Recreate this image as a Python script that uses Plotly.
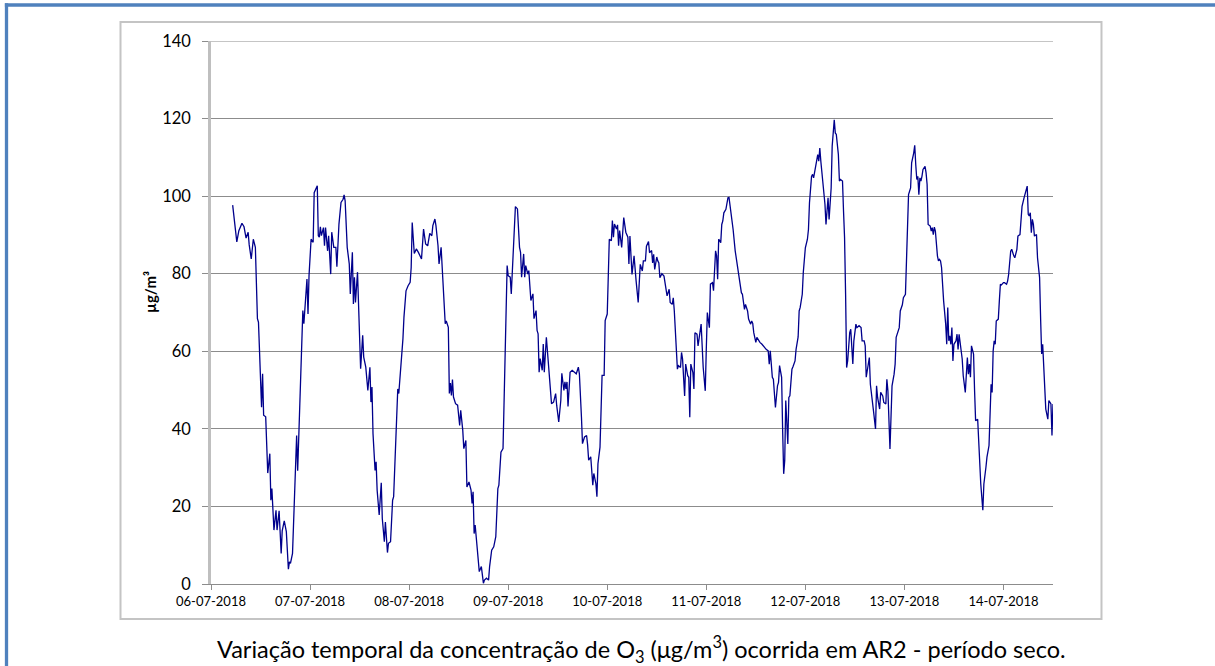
import pandas as pd
import plotly.graph_objects as go

# Reading number (15-minute steps counted from 06-07-2018 00:00) and O3 concentration (µg/m³)
quarter_hour = [
    21, 23, 25, 27, 30, 32, 34, 36, 37, 39, 41, 43, 44, 45, 46, 48, 49, 50, 51, 53,
    55, 57, 58, 59, 61, 63, 64, 66, 68, 69, 71, 73, 75, 76, 77, 79, 81, 83, 84, 86,
    88, 89, 90, 93, 94, 95, 97, 99, 100, 103, 104, 105, 106, 107, 109, 110, 111, 113, 114, 116,
    117, 119, 121, 122, 124, 126, 128, 129, 130, 132, 134, 135, 137, 138, 139, 140, 142, 143, 144, 145,
    147, 148, 150, 152, 154, 155, 156, 157, 159, 160, 161, 163, 165, 166, 168, 169, 171, 172, 174, 176,
    177, 179, 181, 182, 184, 186, 187, 189, 191, 193, 194, 195, 197, 199, 201,
    204, 206, 208, 210, 212, 214, 215, 217, 218, 220, 221, 223, 224, 225, 227, 228, 230, 231, 232, 233,
    234, 235, 237, 239, 241, 242, 244, 245, 247, 248, 250, 252, 253, 254, 255, 256, 258, 259, 260, 262,
    264, 265, 267, 269, 270, 272, 274, 276, 278, 279, 281, 283, 284, 285, 287, 288, 290, 291, 293, 295,
    297, 299, 300, 301, 303, 304, 305, 307, 308, 310, 312, 313, 315, 316, 317, 318, 319, 321, 322, 323,
    325, 327, 329, 330, 332, 334, 335, 337, 339, 340, 342, 343, 344, 345, 346, 348, 350, 352, 354, 356,
    357, 359, 360, 362, 364, 365, 366, 368, 370, 371, 373, 374, 375, 377, 378, 379, 381, 382, 384, 385,
    386, 388, 389, 390, 391, 393, 394, 395, 396, 398, 400, 402, 404, 405,
    406, 408, 410, 412, 414, 416, 418, 419, 421, 422, 424, 425, 427, 428, 429, 430, 432, 433, 434, 435,
    437, 439, 440, 442, 444, 445, 447, 448, 449, 451, 452, 453, 455, 456, 457, 459, 460, 462, 463, 464,
    465, 467, 468, 469, 471, 472, 473, 475, 477, 479, 480, 481, 483, 484, 486, 487, 489, 490, 491, 492,
    494, 495, 496, 497, 499, 501, 502, 504, 506, 508, 510, 512, 514, 515, 517, 518, 520, 521, 523, 524,
    525, 526, 528, 529, 531, 532, 534, 535, 536, 538, 540, 541, 542, 544, 545, 547, 549, 550, 551, 553,
    554, 555, 556, 557, 559, 560, 561, 563, 564, 566, 567, 569, 570, 571, 573, 574, 576, 578, 579, 580,
    582, 583, 584, 585, 586, 588, 589, 590, 591, 593, 595, 596, 598, 599, 601, 602, 604, 605, 606, 608,
    609,
    610, 612, 613, 614, 615, 616, 617, 619, 620, 622, 623, 625, 626, 628, 630, 631, 633, 634, 635, 637,
    638, 639, 641, 642, 644, 645, 646, 648, 649, 651, 652, 654, 655, 656, 658, 659, 660, 662, 663, 664,
    665, 667, 668, 670, 671, 673, 674, 675, 676, 678, 679, 681, 682, 683, 684, 685, 686, 687, 688, 689,
    690, 692, 693, 694, 695, 697, 698, 699, 700, 701, 702, 704, 705, 706, 707, 708, 709, 710, 712, 713,
    714, 715, 716, 717, 718, 719, 720, 722, 723, 724, 725, 727, 728, 729, 731, 733, 734, 735, 736, 737,
    739, 740, 741, 743, 744, 745, 746, 748, 749, 751, 752, 754, 755, 756, 757, 758, 759, 760, 761, 763,
    764, 765, 766, 768, 769, 771, 772, 773, 775, 776, 778, 779, 781, 782, 784, 785, 786, 788, 789, 791,
    792, 793, 794, 795, 796, 797, 798, 800, 801, 803, 804, 805, 806, 808, 809, 811, 812, 814, 815, 816,
]

o3 = [
    97.7, 93.2, 88.2, 91.1, 93.0, 92.1, 89.2, 90.7, 87.5, 83.8, 88.9, 86.8, 74.8, 68.4, 67.5, 54.2, 45.6, 54.2, 43.5, 43.1,
    28.6, 33.6, 21.6, 24.6, 13.9, 19.0, 13.9, 18.9, 7.9, 13.7, 16.3, 13.5, 3.8, 5.7, 5.3, 7.9, 20.8, 38.3, 29.2, 46.5,
    60.6, 70.5, 67.1, 78.6, 69.6, 79.5, 88.9, 88.1, 100.9, 102.7, 89.8, 89.4, 92.1, 89.8, 91.9, 87.2, 91.9, 85.9, 89.8, 79.9,
    90.7, 86.8, 86.8, 81.8, 92.8, 98.4, 99.2, 100.3, 98.8, 86.8, 82.5, 74.8, 85.5, 72.2, 79.1, 72.6, 80.4, 73.1, 65.4, 55.5,
    64.1, 58.5, 55.9, 49.9, 55.9, 46.9, 50.8, 38.8, 29.3, 31.5, 24.2, 17.8, 26.1, 16.9, 10.9, 16.0, 8.1, 10.5, 10.9, 21.6,
    22.5, 35.3, 50.3, 49.1, 55.9, 63.2, 68.8, 75.6, 76.9, 77.8, 81.6, 93.2, 85.2, 86.4, 85.5,
    83.8, 91.5, 87.7, 87.2, 90.4, 89.8, 92.4, 94.1, 92.4, 87.2, 82.5, 86.8, 82.1, 74.8, 67.1, 67.8, 66.2, 49.1, 51.8, 48.6,
    52.7, 48.2, 46.5, 46.1, 40.9, 44.8, 39.6, 34.9, 37.0, 25.0, 26.3, 24.2, 20.8, 23.8, 13.0, 15.2, 7.9, 6.6, 3.2, 4.5,
    0.2, 1.0, 1.5, 1.0, 4.5, 8.7, 9.6, 12.2, 24.6, 25.5, 34.0, 34.9, 47.3, 61.9, 82.1, 79.5, 79.1, 74.8, 85.1, 97.3,
    96.7, 86.8, 85.5, 79.1, 85.1, 79.1, 82.1, 79.9, 80.8, 73.1, 74.8, 68.4, 70.5, 65.4, 64.5, 54.6, 58.1, 55.1, 61.9, 54.6,
    63.6, 57.6, 50.8, 46.5, 46.9, 49.1, 46.1, 41.8, 47.3, 54.3, 49.9, 52.1, 50.3, 52.1, 45.8, 54.6, 55.1, 54.6, 54.2, 55.9,
    54.2, 43.1, 36.2, 37.9, 38.3, 35.8, 31.9, 32.8, 25.5, 28.5, 25.9, 22.5, 31.0, 35.3, 43.5, 53.8, 53.8, 67.9, 69.6, 84.2,
    88.9, 88.5, 93.7, 89.4, 92.8, 91.5, 92.6, 87.2, 91.1, 86.8, 94.5, 90.7, 89.4, 82.5,
    89.7, 79.8, 84.6, 78.1, 72.6, 82.4, 80.7, 83.3, 83.3, 87.1, 88.3, 85.4, 86.0, 82.8, 85.0, 81.1, 84.3, 83.3, 82.8, 79.0,
    80.0, 79.4, 77.3, 74.3, 76.0, 72.6, 72.1, 73.8, 70.4, 59.3, 55.4, 56.3, 55.8, 59.7, 58.0, 48.5, 56.7, 53.7, 53.3, 43.0,
    56.7, 54.5, 50.3, 64.8, 64.4, 61.4, 63.5, 67.0, 55.8, 49.8, 60.5, 70.0, 66.1, 77.3, 77.7, 75.6, 85.9, 84.6, 78.6, 88.9,
    88.0, 92.7, 93.6, 95.7, 96.6, 99.6, 99.7, 96.1, 91.4, 85.9, 82.4, 79.8, 75.1, 74.7, 70.8, 72.1, 70.4, 68.3, 67.0, 67.8,
    67.2, 64.8, 62.3, 63.6, 62.7, 62.3, 61.8, 61.4, 61.0, 60.5, 60.1, 56.7, 60.1, 53.3, 52.8, 45.5, 51.1, 52.0, 56.3, 53.3,
    39.5, 28.4, 31.8, 47.3, 36.1, 48.1, 48.5, 55.4, 56.0, 57.5, 60.5, 63.7, 70.4, 71.3, 74.7, 80.3, 86.7, 88.9, 91.4, 98.3,
    105.1, 105.6, 104.7, 106.4, 106.9, 110.7, 109.0, 112.4, 109.0, 103.9, 97.9, 92.7, 99.6, 94.0, 102.1, 112.9, 119.7, 116.3, 115.9, 110.7,
    103.9,
    104.3, 103.9, 96.1, 89.3, 74.7, 55.8, 57.5, 64.8, 65.7, 56.7, 62.7, 67.0, 66.1, 66.6, 66.1, 62.7, 62.7, 61.4, 53.3, 56.7,
    58.4, 51.5, 46.0, 44.7, 40.0, 51.1, 48.1, 45.1, 49.4, 48.5, 46.8, 46.4, 52.8, 49.8, 34.8, 45.1, 51.1, 54.1, 56.7, 63.6,
    64.4, 66.1, 70.4, 72.0, 73.8, 74.7, 83.3, 92.3, 100.4, 102.1, 108.6, 111.1, 113.1, 108.1, 104.3, 105.1, 100.4, 104.7, 103.9, 105.1,
    106.9, 107.7, 106.0, 103.0, 92.7, 92.3, 91.0, 91.9, 90.1, 92.0, 91.0, 84.6, 83.3, 83.7, 83.3, 81.6, 75.6, 73.0, 67.0, 61.8,
    71.3, 62.7, 64.0, 61.8, 66.1, 57.5, 61.8, 62.7, 64.4, 60.5, 64.4, 60.1, 58.0, 53.7, 49.4, 58.4, 54.1, 56.7, 53.3, 61.4,
    59.3, 49.8, 42.1, 42.5, 35.2, 28.4, 25.8, 19.0, 25.8, 30.1, 32.7, 35.7, 45.5, 51.5, 49.4, 60.1, 62.7, 61.8, 67.8, 68.3,
    73.0, 77.3, 77.1, 77.7, 77.7, 77.3, 78.1, 79.8, 85.8, 86.3, 84.6, 84.1, 86.3, 89.7, 90.1, 95.3, 97.4, 99.6, 100.4, 102.6,
    95.3, 94.9, 95.7, 90.6, 94.0, 92.7, 89.7, 90.1, 84.1, 79.0, 68.3, 59.3, 61.8, 52.4, 45.1, 42.5, 47.3, 46.4, 38.3, 46.4,
]

start_time = "2018-07-06 00:00"
end_time = "2018-07-14 12:00"
y_ticks = [0, 20, 40, 60, 80, 100, 120, 140]

times = pd.Timestamp(start_time) + pd.to_timedelta([q * 15 for q in quarter_hour], unit="min")

FONT = "Lato"
GRID = "#8C8C8C"
FRAME = "#4F81BD"

fig = go.Figure()
fig.add_trace(go.Scatter(
    x=times, y=o3, mode="lines",
    line=dict(color="#00008C", width=1.3),
    hoverinfo="x+y", showlegend=False,
))

fig.update_layout(
    width=1215, height=666,
    margin=dict(l=211, r=162, t=41, b=82),
    paper_bgcolor="white", plot_bgcolor="white",
    font=dict(family=FONT, color="#000000"),
    xaxis=dict(
        type="date",
        range=[start_time, end_time],
        tick0="2018-07-06", dtick=86400000,
        tickformat="%d-%m-%Y",
        showgrid=False, zeroline=False,
        showline=True, linecolor=GRID, linewidth=1,
        ticks="outside", ticklen=5, tickcolor=GRID,
        tickfont=dict(family=FONT, size=13, color="#000000"),
    ),
    yaxis=dict(
        range=[0, 140], tickvals=y_ticks,
        showgrid=True, gridcolor=GRID, gridwidth=1,
        zeroline=False,
        showline=True, linecolor="#BFBFBF", linewidth=2.5,
        ticks="outside", ticklen=6, tickcolor=GRID,
        tickfont=dict(family=FONT, size=16.5, color="#000000"),
        ticklabelstandoff=8,
    ),
    shapes=[
        # outer blue frame: top edge and left edge
        dict(type="line", xref="paper", yref="paper",
             x0=-0.2448, x1=1.3, y0=1.0663, y1=1.0663,
             line=dict(color=FRAME, width=3.3), layer="below"),
        dict(type="line", xref="paper", yref="paper",
             x0=-0.24287, x1=-0.24287, y0=-0.3, y1=1.0693,
             line=dict(color=FRAME, width=3.3), layer="below"),
        # chart area border
        dict(type="rect", xref="paper", yref="paper",
             x0=-0.10748, x1=1.0576, y0=-0.06446, y1=1.03499,
             line=dict(color="#C4C4C4", width=2), fillcolor="rgba(0,0,0,0)", layer="below"),
    ],
    annotations=[
        dict(text="<b>µg/m³</b>", textangle=-90, xref="paper", yref="paper",
             x=-0.07245, y=0.5378, xanchor="center", yanchor="middle", showarrow=False,
             font=dict(family=FONT, size=15, color="#000000")),
        dict(text="Variação temporal da concentração de O<sub>3</sub> (μg/m<sup>3</sup>) ocorrida em AR2 - período seco.",
             xref="paper", yref="paper", x=0.5113, y=-0.1215, xanchor="center", yanchor="middle",
             showarrow=False, font=dict(family=FONT, size=23.5, color="#000000")),
    ],
)

# top gridline at the upper end of the value axis (added after the layout shapes)
fig.add_hline(y=y_ticks[-1], line=dict(color=GRID, width=1), layer="below")

fig.write_html(
    "out.html",
    config={"displayModeBar": False},
    post_script="document.body.style.margin='0px'; document.body.style.overflow='hidden';",
)
